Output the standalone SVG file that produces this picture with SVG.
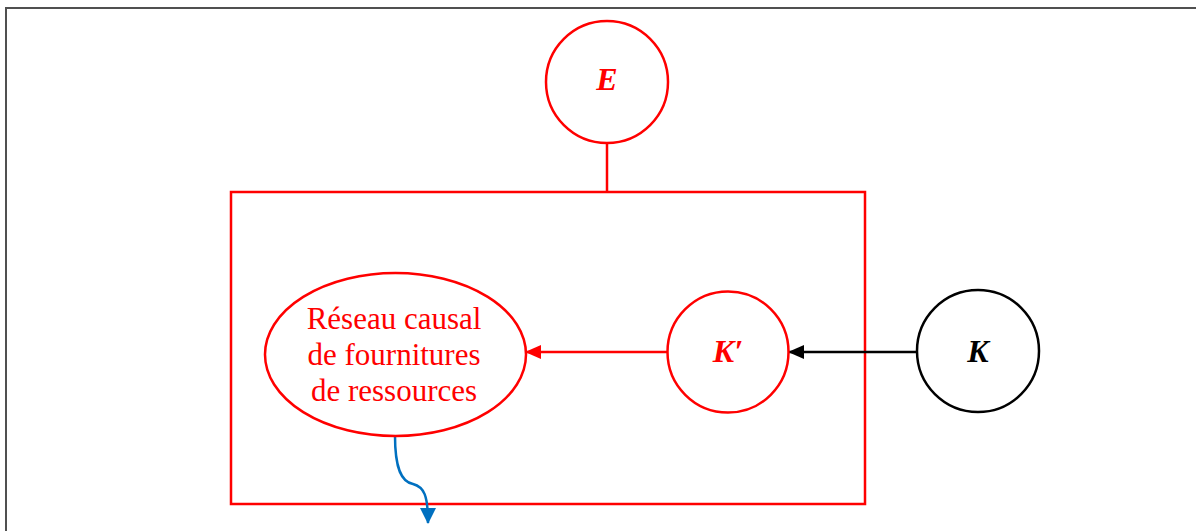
<svg xmlns="http://www.w3.org/2000/svg" width="1196" height="531" viewBox="0 0 1196 531">
<style>
.red{fill:none;stroke:#ff0000;stroke-width:2.5}
.blk{fill:none;stroke:#000;stroke-width:2.5}
.lbl{font-family:"Liberation Serif",serif;font-weight:bold;font-style:italic;font-size:32px;text-anchor:middle}
.body{font-family:"Liberation Serif",serif;font-size:31px;fill:#ff0000;text-anchor:middle}
</style>
<defs>
<marker id="ahR" markerWidth="16" markerHeight="14" refX="15" refY="7" orient="auto" markerUnits="userSpaceOnUse"><path d="M0,0 L16,7 L0,14 Z" fill="#ff0000"/></marker>
<marker id="ahK" markerWidth="16" markerHeight="14" refX="15" refY="7" orient="auto" markerUnits="userSpaceOnUse"><path d="M0,0 L16,7 L0,14 Z" fill="#000"/></marker>
<marker id="ahB" markerWidth="16" markerHeight="16" refX="15" refY="8" orient="auto" markerUnits="userSpaceOnUse"><path d="M0,0 L16,8 L0,16 Z" fill="#0070c0"/></marker>
</defs>
<rect width="1196" height="531" fill="#fff"/>
<path d="M6,531 V8 H1196" fill="none" stroke="#505050" stroke-width="2"/>
<g id="frame">
<rect x="231" y="192" width="634" height="312" class="red" stroke-width="3"/>
</g>
<g id="connectors">
<line x1="607" y1="143" x2="607" y2="192" class="red"/>
<line x1="667" y1="352" x2="526" y2="352" class="red" marker-end="url(#ahR)"/>
<line x1="917" y1="352" x2="789" y2="352" class="blk" marker-end="url(#ahK)"/>
<path d="M395,436 C395,470 402,482 413,484 C424,487 428,495 428,523" fill="none" stroke="#0070c0" stroke-width="2.5" marker-end="url(#ahB)"/>
</g>
<g id="node-E">
<circle cx="607" cy="82" r="61" class="red"/>
<text x="607" y="90" class="lbl" fill="#ff0000">E</text>
</g>
<g id="node-reseau">
<ellipse cx="395.5" cy="354.5" rx="130.5" ry="81.5" class="red"/>
<text class="body"><tspan x="394" y="329">Réseau causal</tspan><tspan x="394" y="365">de fournitures</tspan><tspan x="394" y="401">de ressources</tspan></text>
</g>
<g id="node-Kp">
<circle cx="728" cy="352" r="60.5" class="red"/>
<text x="728" y="362" class="lbl" fill="#ff0000">K′</text>
</g>
<g id="node-K">
<circle cx="978" cy="351" r="61" class="blk"/>
<text x="978" y="362" class="lbl" fill="#000">K</text>
</g>
</svg>
